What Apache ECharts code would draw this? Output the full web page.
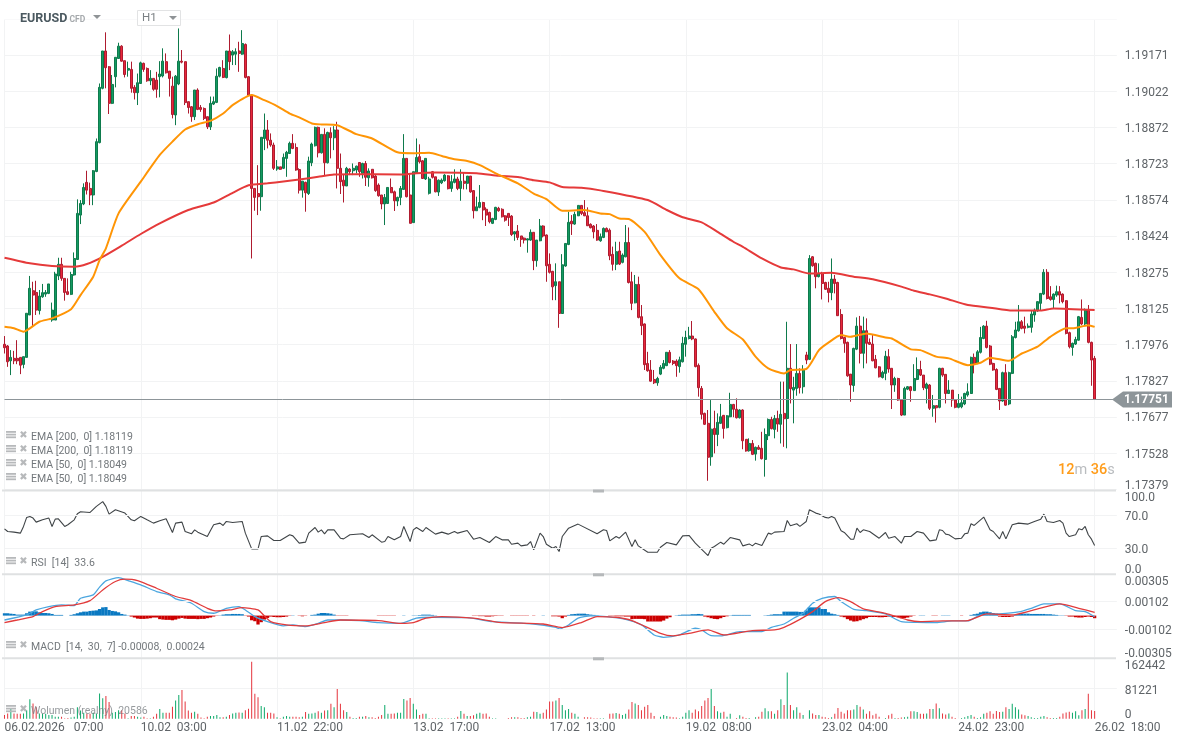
<!DOCTYPE html>
<html><head><meta charset="utf-8">
<style>html,body{margin:0;padding:0;background:#fff}#c{width:1184px;height:744px}</style>
<script src="https://cdn.jsdelivr.net/npm/echarts@6/dist/echarts.min.js"></script>
</head><body><div id="c"></div>
<script>
const SCALE=1e-5; // all prices below are in points of 0.00001
const tickLabelsX=['06.02.2026\u00A0\u00A0\u00A007:00','10.02\u00A0\u00A003:00','11.02\u00A0\u00A022:00','13.02\u00A0\u00A017:00','17.02\u00A0\u00A013:00','19.02\u00A0\u00A008:00','23.02\u00A0\u00A004:00','24.02\u00A0\u00A023:00','26.02\u00A0\u00A018:00'];
const tickLabelsPrice=['1.17379','1.17528','1.17677','1.17827','1.17976','1.18125','1.18275','1.18424','1.18574','1.18723','1.18872','1.19022','1.19171',''];
const rsiTicks=[0,30,70,100];
const macdTicks=[-0.00305,-0.00102,0.00102,0.00305];
const opens=[117978,117971,117910,117920,117920,117924,117895,117924,118099,118199,
118192,118117,118174,118185,118188,118078,118078,118260,118308,118250,
118195,118184,118264,118328,118511,118557,118646,118621,118594,118691,
118810,119034,119188,119123,118972,119082,119157,119208,119148,119109,
119112,119038,119016,119054,119137,119116,119065,119075,119068,119082,
119085,119144,119105,119043,118924,119052,119146,119144,118979,118958,
118917,119027,118955,118951,118917,118875,118969,118976,119084,119116,
119078,119188,119171,119175,119188,119175,119215,119082,119006,118621,
118600,118587,118827,118862,118820,118800,118701,118710,118704,118745,
118765,118807,118790,118699,118614,118646,118600,118727,118797,118873,
118768,118844,118727,118851,118830,118862,118704,118655,118631,118701,
118694,118697,118728,118683,118724,118665,118700,118672,118635,118594,
118557,118559,118625,118607,118569,118584,118617,118745,118594,118480,
118686,118752,118735,118660,118601,118690,118669,118606,118644,118653,
118673,118621,118646,118660,118621,118651,118642,118672,118612,118529,
118543,118563,118535,118522,118477,118493,118539,118535,118508,118518,
118507,118433,118445,118425,118416,118408,118408,118440,118323,118405,
118466,118429,118308,118279,118220,118236,118105,118301,118390,118486,
118474,118508,118551,118521,118508,118473,118466,118448,118405,118419,
118456,118449,118349,118308,118363,118316,118339,118398,118236,118149,
118225,118092,118062,117899,117872,117833,117819,117855,117879,117890,
117945,117909,117909,117886,117906,117978,118002,118012,118000,117891,
117796,117693,117652,117514,117631,117606,117652,117685,117634,117679,
117730,117710,117675,117707,117586,117539,117569,117525,117553,117549,
117503,117601,117668,117627,117672,117648,117693,117672,117879,117789,
117796,117858,117803,117934,117916,118339,118312,118257,118270,118233,
118209,118191,118247,118233,118101,118006,117986,117855,117808,117958,
118053,117941,118034,117986,117979,117916,117885,117841,117858,117927,
117879,117810,117837,117748,117686,117793,117803,117787,117833,117874,
117851,117796,117810,117714,117725,117718,117879,117854,117775,117789,
117748,117718,117720,117732,117769,117775,117924,117899,117945,118002,
118053,117971,117899,117874,117796,117744,117861,117732,117858,118006,
118034,118071,118053,118048,118048,118099,118116,118147,118185,118275,
118174,118163,118181,118195,118185,118158,118026,117965,117979,117995,
118089,118062,118119,117986,117920];
const closes=[117964,117906,117924,117910,117910,117892,117927,118106,118209,118181,
118119,118177,118191,118192,118227,118119,118268,118308,118250,118192,
118184,118266,118332,118518,118559,118625,118614,118594,118694,118814,
119038,119188,119119,118972,119050,119162,119208,119146,119091,119116,
119034,119016,119057,119139,119112,119065,119075,119030,119030,119093,
119146,119098,119075,118926,119084,119146,119142,118975,118955,118917,
119027,118947,118947,118910,118875,118972,118979,119084,119120,119079,
119188,119144,119185,119185,119178,119219,119079,119006,118621,118584,
118587,118832,118862,118820,118800,118704,118710,118700,118749,118770,
118807,118786,118697,118614,118651,118603,118734,118804,118873,118768,
118844,118727,118852,118830,118862,118704,118649,118632,118704,118690,
118704,118713,118690,118724,118667,118693,118665,118612,118591,118557,
118584,118625,118603,118570,118584,118621,118745,118587,118477,118690,
118749,118731,118662,118745,118660,118667,118607,118655,118655,118676,
118620,118649,118660,118621,118651,118642,118672,118607,118529,118545,
118563,118532,118511,118484,118497,118543,118529,118504,118490,118501,
118431,118442,118419,118411,118408,118413,118440,118323,118408,118466,
118425,118302,118275,118215,118236,118105,118306,118394,118481,118475,
118514,118551,118518,118508,118467,118459,118442,118408,118422,118456,
118442,118343,118308,118360,118309,118346,118398,118233,118147,118225,
118089,118055,117894,117869,117826,117819,117837,117883,117899,117945,
117903,117899,117890,117914,117982,118006,118012,118000,117886,117799,
117689,117648,117512,117628,117606,117656,117679,117631,117683,117730,
117710,117675,117707,117580,117538,117569,117524,117553,117545,117506,
117606,117668,117630,117672,117649,117689,117671,117879,117795,117800,
117858,117799,117872,117913,118332,118302,118257,118268,118229,118205,
118192,118247,118229,118096,118002,117982,117848,117810,117961,118053,
117941,118034,117982,117978,117910,117881,117844,117862,117929,117876,
117810,117837,117748,117686,117796,117803,117787,117837,117874,117851,
117799,117814,117714,117725,117716,117879,117851,117775,117789,117748,
117718,117734,117737,117775,117782,117924,117896,117947,118006,118053,
117965,117896,117872,117792,117744,117861,117727,117861,118009,118037,
118071,118044,118044,118053,118103,118119,118154,118188,118275,118167,
118163,118185,118195,118181,118154,118023,117968,117982,117998,118092,
118062,118119,117986,117913,117751];
const lows=[117940,117885,117851,117896,117896,117855,117879,117924,118099,118050,
118099,118101,118170,118174,118185,118071,118078,118243,118240,118158,
118181,118181,118261,118326,118474,118552,118596,118552,118552,118688,
118807,119030,119034,118928,118969,119038,119155,119144,119079,119082,
119016,118988,118965,119052,119102,119061,119047,119024,118995,118997,
119079,119095,119000,118910,118882,119047,119137,118965,118930,118896,
118903,118944,118937,118903,118866,118862,118965,118973,119079,119076,
119075,119109,119130,119130,119102,119172,119075,119003,118332,118529,
118511,118529,118779,118786,118793,118697,118694,118697,118701,118669,
118763,118783,118694,118600,118583,118525,118594,118713,118794,118749,
118765,118672,118724,118745,118779,118621,118598,118563,118631,118676,
118676,118683,118669,118662,118631,118628,118662,118607,118587,118535,
118470,118557,118603,118528,118548,118552,118617,118584,118477,118480,
118683,118724,118660,118656,118596,118662,118605,118590,118639,118649,
118617,118607,118642,118614,118570,118617,118617,118603,118497,118529,
118539,118490,118466,118477,118474,118490,118525,118501,118484,118466,
118425,118405,118408,118380,118394,118356,118405,118284,118298,118403,
118419,118236,118270,118160,118160,118046,118103,118298,118387,118429,
118471,118507,118511,118507,118466,118456,118415,118405,118401,118416,
118442,118325,118282,118284,118305,118312,118337,118229,118119,118147,
118085,118016,117872,117865,117824,117814,117807,117851,117875,117888,
117899,117892,117844,117861,117903,117927,117998,117995,117883,117762,
117668,117645,117415,117477,117528,117558,117649,117589,117631,117677,
117677,117672,117672,117545,117535,117535,117521,117498,117542,117503,
117432,117583,117627,117590,117617,117569,117555,117549,117734,117652,
117766,117775,117775,117896,117913,118298,118209,118254,118163,118202,
118151,118160,118188,118095,117998,117943,117844,117741,117782,117954,
117899,117879,117899,117975,117908,117879,117841,117837,117830,117861,
117711,117782,117745,117682,117686,117789,117741,117787,117830,117847,
117789,117734,117707,117679,117655,117714,117844,117734,117773,117720,
117714,117714,117714,117727,117762,117773,117858,117896,117940,117999,
117961,117892,117869,117789,117707,117741,117725,117727,117855,118002,
118030,118040,118023,118044,118026,118071,118112,118119,118181,118163,
118158,118126,118174,118147,118147,118019,117961,117931,117975,117993,
118057,118057,117982,117807,117751];
const highs=[118012,117975,117954,117951,117995,117924,117927,118106,118260,118236,
118240,118202,118227,118202,118227,118150,118277,118335,118335,118250,
118250,118277,118357,118576,118573,118642,118694,118645,118697,118827,
119054,119188,119265,119126,119089,119162,119222,119212,119148,119144,
119144,119047,119095,119144,119140,119120,119109,119075,119102,119146,
119199,119178,119105,119082,119089,119281,119192,119144,118979,118961,
119027,119034,118965,118955,118917,119000,119000,119116,119123,119150,
119188,119256,119192,119199,119226,119274,119219,119085,119009,118621,
118717,118832,118930,118903,118848,118810,118738,118710,118765,118776,
118814,118845,118807,118704,118651,118649,118752,118810,118876,118876,
118844,118869,118855,118873,118878,118896,118765,118680,118710,118704,
118724,118715,118728,118727,118734,118704,118700,118676,118642,118594,
118598,118625,118662,118612,118587,118631,118845,118745,118680,118690,
118827,118803,118738,118745,118669,118693,118669,118658,118662,118680,
118676,118676,118700,118669,118700,118686,118672,118672,118614,118587,
118635,118566,118543,118525,118500,118545,118545,118539,118511,118518,
118511,118445,118470,118425,118419,118415,118452,118440,118408,118495,
118469,118431,118353,118281,118312,118236,118350,118394,118525,118511,
118525,118551,118551,118573,118543,118477,118470,118474,118435,118460,
118460,118456,118381,118401,118401,118353,118470,118460,118277,118264,
118257,118140,118064,117947,117913,117872,117844,117892,117913,117945,
117954,117913,117916,117927,118009,118034,118050,118074,118002,117899,
117806,117696,117707,117748,117704,117693,117732,117686,117686,117778,
117732,117755,117710,117710,117586,117590,117583,117556,117562,117617,
117631,117672,117679,117686,117704,117824,117824,118071,117979,117844,
117979,117879,117892,117947,118346,118342,118315,118312,118277,118236,
118236,118332,118264,118236,118123,118006,117989,117855,117964,118089,
118095,118092,118085,118002,118016,117934,117888,117869,117951,117958,
117879,117844,117840,117748,117803,117806,117806,117896,117924,117910,
117851,117820,117814,117769,117725,117881,117881,117854,117830,117789,
117748,117773,117762,117778,117817,117927,117940,117954,118050,118057,
118075,117975,117902,117879,117796,117865,117896,117865,118016,118071,
118140,118078,118092,118064,118119,118126,118156,118188,118288,118288,
118218,118188,118220,118218,118188,118160,118030,117985,118009,118095,
118163,118126,118140,117989,117930];
const emaSlowIdx=[0,8,15,22,26,31,37,43,49,58,66,72,77,83,88,93,99,104,109,125,130,136,149,156,162,167,172,176,182,188,203,209,214,220,225,230,233,239,245,249,254,261,268,274,283,287,292,297,304,311,318,327,331,344];
const emaSlow=[118335,118312,118301,118298,118309,118339,118385,118433,118477,118532,118563,118603,118634,118642,118650,118658,118669,118678,118680,118678,118684,118687,118684,118673,118668,118655,118646,118627,118624,118613,118573,118532,118502,118481,118442,118401,118380,118332,118295,118287,118270,118273,118257,118246,118216,118199,118184,118167,118140,118129,118117,118117,118126,118119];
const emaFastIdx=[0,3,6,11,15,21,24,28,30,32,36,43,49,53,57,61,65,69,72,78,82,86,90,93,97,100,105,111,116,124,129,134,138,142,146,150,155,162,167,171,176,183,188,191,194,197,202,207,213,219,224,228,233,237,241,246,248,253,257,260,264,267,272,278,280,286,289,294,298,304,308,311,317,321,326,330,335,337,342,344];
const emaFast=[118050,118044,118030,118071,118085,118123,118181,118257,118325,118374,118518,118649,118759,118814,118864,118886,118900,118930,118965,119006,118985,118961,118930,118914,118889,118885,118882,118845,118827,118770,118766,118768,118755,118741,118734,118717,118683,118642,118600,118577,118529,118532,118518,118515,118497,118495,118442,118346,118250,118205,118112,118044,117998,117927,117879,117858,117872,117876,117954,117985,118016,118009,118023,118006,118002,117957,117954,117927,117920,117892,117902,117923,117910,117940,117968,118009,118044,118044,118057,118050];
const rsiIdx=[0,1,3,5,6,7,8,9,10,12,14,15,16,17,19,20,22,23,24,27,29,31,32,33,35,38,40,41,43,45,47,49,51,53,54,56,57,59,60,61,64,65,66,68,69,70,72,75,76,78,80,81,83,85,87,90,91,93,95,96,98,99,100,101,102,104,106,107,109,113,115,116,119,120,121,123,125,126,128,129,130,132,133,136,138,140,142,143,146,148,150,153,155,157,159,160,162,163,165,166,167,169,170,171,173,174,175,176,178,181,187,189,190,191,193,194,196,198,199,200,203,206,207,209,212,214,216,218,222,223,224,226,227,229,232,233,235,236,237,239,241,242,243,246,247,248,250,251,253,254,256,257,259,260,261,262,264,265,267,268,269,270,271,273,276,278,279,281,283,284,286,288,290,292,294,295,296,297,298,300,302,303,304,305,306,309,311,312,314,315,316,318,320,323,325,327,328,329,331,333,334,335,336,338,339,340,341,342,343,344];
const rsi=[53.7,50.5,49.7,48.5,56.6,67.5,68.7,66.7,61.8,64.6,66.7,56.6,65.4,65.8,56.6,58.6,64.6,71.9,74.3,73.5,80.8,86.5,80.8,71.5,76.8,72.7,64.6,63.4,68.7,64.6,60.6,63.4,65.9,49.3,60.6,61.8,50.5,47.7,52.5,49.7,44.4,51.7,58.6,60.6,57.8,62.6,61.4,62.6,48.5,29.5,29.5,44.4,45.2,39.6,39.6,46.5,45.2,36.4,37.6,48.5,55.3,49.7,52.5,47.7,52.5,52.5,42.4,41.6,46.5,47.7,43.2,46.5,37.6,38.4,44.4,40.4,44.4,56.6,38.4,52.5,55.3,50.5,55.3,47.3,49.7,47.3,50.5,48.5,51.7,41.2,43.2,37.2,44.4,40.4,40.4,35.1,36.4,33.1,34.3,38.4,28.3,48.5,44.4,35.1,30.3,32.3,26.3,44.4,54.5,59.4,47.7,52.5,51.7,39.2,44.4,42.4,49.7,32.3,40.4,33.1,25.4,25.4,31.5,37.2,34.3,45.2,45.7,36.4,21.4,30.3,32.3,37.6,35.1,43.2,40.4,33.1,35.5,33.1,36.4,33.5,48.5,47.3,49.7,50.5,63.8,57.4,59.8,56.6,62.6,76.8,72.7,71.5,67.5,66.7,68.7,66.7,51.3,49.3,41.2,41.2,54.5,49.3,52.5,50.5,42.4,49.3,42.4,44.4,36.4,44.4,44.4,50.5,48.5,39.2,40.4,52.5,51.7,47.3,46.5,41.6,42.4,47.7,48.5,59.8,57.8,67.9,52.5,50.5,41.6,50.5,41.6,58.6,60.6,59.4,62.6,65.4,71.5,62.6,61.4,63.8,60.6,48.5,44.4,46.5,53.7,52.5,56.6,46.5,41.2,33.6];
const macdIdx=[0,7,10,14,18,22,24,28,30,32,36,39,43,48,52,54,59,63,66,70,74,76,79,83,88,91,95,99,102,106,112,118,125,130,135,146,154,167,174,175,178,181,185,190,196,201,205,208,213,218,220,223,226,232,239,242,246,249,252,255,258,262,264,268,272,278,283,288,294,299,304,308,314,320,324,328,333,338,341,344];
const macd=[-32,5,41,66,78,73,126,151,207,253,277,255,224,175,151,122,90,29,17,53,66,41,-7,-44,-75,-68,-80,-56,-32,-32,-36,-51,-56,-19,-12,-15,-44,-61,-85,-97,-68,-19,-2,-7,-27,-68,-141,-158,-141,-92,-104,-146,-148,-117,-117,-85,-61,-19,17,90,126,139,102,46,36,12,-44,-49,-51,-39,-39,5,12,27,53,85,85,36,29,-8];
const signalIdx=[0,4,9,12,16,22,27,31,35,38,42,48,54,59,64,67,71,75,80,82,84,89,95,101,106,118,125,129,133,138,148,156,170,176,182,187,193,198,207,211,216,222,227,236,243,246,251,255,259,263,267,271,278,285,289,296,304,310,318,324,333,339,344];
const signal=[-51,-32,-7,29,66,78,109,187,248,265,255,199,139,109,53,34,41,58,41,-2,-44,-68,-75,-51,-32,-36,-56,-51,-19,-7,-19,-49,-61,-87,-51,-7,-12,-36,-129,-148,-129,-104,-141,-109,-104,-85,-27,29,102,131,102,49,17,-32,-44,-39,-36,12,5,36,85,53,24];
const macdHist=[17,17,14,12,7,7,7,17,29,31,31,24,19,19,17,12,5,5,5,0,0,5,10,17,24,29,29,34,36,38,48,60,62,41,34,31,24,12,7,2,
-7,-14,-22,-24,-24,-22,-19,-14,-14,-26,-29,-31,-31,-34,-29,-22,-17,-22,-24,-24,-24,-26,-24,-24,-19,-14,-7,-2,
2,7,10,10,12,12,12,10,
-2,-7,-34,-41,-65,-48,-29,-17,-7,-10,-12,-12,-10,-7,-2,
2,0,-2,-5,-2,0,
5,7,14,19,19,17,14,7,
-2,-2,-2,-2,0,0,0,0,0,0,0,0,0,
-2,-2,-2,-2,-2,-2,0,0,2,0,0,
2,2,4,7,7,7,5,2,0,0,0,0,0,0,0,0,0,0,0,
-2,-2,-4,-4,-7,-7,-5,-3,-2,-2,0,0,
-2,-2,-2,-2,-2,-2,0,-2,0,0,2,0,0,
-5,-5,-7,-19,-7,
5,10,12,14,14,14,10,7,5,2,0,0,0,
-2,-2,-4,-5,-5,-7,-7,-26,-24,-24,-24,-26,-43,-43,-43,-43,-43,-36,-22,-12,0,2,
5,7,7,7,10,10,12,10,
-7,-12,-19,-24,-26,-19,-10,-5,
2,5,5,5,5,5,5,0,0,0,0,
2,4,7,10,10,10,
29,29,29,29,29,27,27,38,60,60,60,60,48,48,24,14,10,5,
-7,-12,-26,-36,-43,-41,-34,-26,-19,-10,-10,-10,-12,-12,-10,-7,-10,-10,-12,-19,-19,-14,-7,-2,0,
2,2,0,0,-2,-2,0,2,2,2,0,0,0,-2,0,0,
5,10,14,24,29,29,24,19,14,
-7,-10,-10,-10,-7,
7,12,14,14,14,12,12,12,12,12,10,10,7,5,2,2,
-2,-7,-7,-12,-14,-14,-10,-7,-10,-19];
const volumesK=[10,14,28,14,13,13,14,23,52,41,31,14,13,13,10,10,5,5,5,1,2,3,5,31,22,16,13,13,16,14,68,55,61,45,16,18,23,23,14,
1,7,7,5,3,5,1,1,5,13,26,16,16,16,32,49,64,77,46,22,16,19,13,3,1,5,7,7,10,4,4,5,10,14,16,17,16,23,27,153,67,58,34,31,16,16,14,4,1,5,7,5,5,5,4,5,18,13,14,16,20,16,22,23,40,31,80,40,23,18,5,2,2,5,5,7,4,4,2,5,10,37,13,13,14,16,
16,53,49,56,40,25,10,13,13,1,1,1,1,1,1,1,1,1,5,21,13,7,7,9,13,16,13,14,5,1,1,0,0,0,2,4,4,4,2,2,4,5,19,18,13,16,25,46,46,49,56,37,23,26,16,13,5,0,4,4,3,1,1,1,1,0,13,14,15,13,10,13,25,45,41,37,23,32,37,16,7,0,5,10,7,5,4,3,1,5,16,23,16,25,20,34,49,56,80,34,20,16,19,5,13,0,2,9,5,2,2,0,4,5,19,28,20,20,13,23,52,
37,124,37,23,31,16,10,0,23,14,10,10,5,4,2,4,13,29,19,14,23,23,25,37,32,25,13,20,9,13,5,0,2,9,13,2,2,3,4,5,20,20,18,13,13,14,26,26,41,28,14,11,14,5,2,0,2,4,7,10,5,2,4,13,16,20,13,21,18,19,31,26,40,31,25,11,9,7,4,2,2,5,7,4,2,2,2,5,14,17,19,16,20,9,23,26,67,23,21];
const CURRENT_PRICE=1.17751;
const GREEN='#149a62',GREEN_B='#0e7a4c',RED='#e8283c',RED_B='#ae1b2f';
const TICK_EVERY=43, PAD=7;
const N=closes.length+PAD;
const categories=Array.from({length:N},(_,i)=>i%TICK_EVERY===0?tickLabelsX[i/TICK_EVERY]:String(i));
const p=v=>v*SCALE;
const pairs=(idx,vals,f)=>idx.map((x,k)=>[x,f?f(vals[k]):vals[k]]);
const iv=1.17379/786;
const GRID='#f2f3f4',TXT='#5f6468';
const barW=3.169;
const left=4.5,w=(N-1)*barW,right=1184-left-w;
const grids=[
 {left,right,top:18.9,height:470.6},
 {left,right,top:490.5,height:82.8},
 {left,right,top:573.7,height:83.8},
 {left,right,top:658.3,height:60.4}];
const axisX=(g,show)=>({type:'category',gridIndex:g,data:categories,boundaryGap:false,axisLine:{show:false},axisTick:{show:false},
 splitLine:{show:true,interval:TICK_EVERY-1,lineStyle:{color:GRID,width:1}},
 axisLabel:{show:show,interval:TICK_EVERY-1,align:'left',margin:3,color:TXT,fontSize:12,fontFamily:'Roboto',verticalAlign:'top'}});
const axisBase={position:'right',axisLine:{show:false},axisTick:{show:false}};
const font={color:TXT,fontSize:12,fontFamily:'Roboto'};
// edge labels sit inside the panel, middle labels sit on their line
const lab=(midPad,topPad,botPad)=>({...font,margin:8,rich:{
 m:{...font,padding:[midPad,0,0,0]},t:{...font,padding:[topPad,0,0,0]},b:{...font,padding:[0,0,botPad,0]}}});
const mark=(text,isTop,isBot)=>`{${isTop?'t':isBot?'b':'m'}|${text}}`;
const hline=(vals)=>({silent:true,symbol:'none',animation:false,precision:5,label:{show:false},lineStyle:{color:GRID,width:1,type:'solid'},data:vals.map(v=>({yAxis:v}))});
const option={animation:false,backgroundColor:'#fff',textStyle:{fontFamily:'Roboto'},
 grid:grids,
 xAxis:[axisX(0,false),axisX(1,false),axisX(2,false),axisX(3,true)],
 yAxis:[
  {...axisBase,gridIndex:0,type:'value',min:786*iv,max:799*iv,interval:iv,splitLine:{show:true,showMaxLine:false,showMinLine:true,lineStyle:{color:GRID,width:1}},
   axisLabel:{...lab(2.5,0,8),formatter:v=>{const k=Math.round(v/iv)-786;const t=tickLabelsPrice[k];return t?mark(t,false,k===0):'';}}},
  {...axisBase,gridIndex:1,type:'value',min:0,max:100,splitLine:{show:false},
   axisLabel:{...lab(3,14,6.5),customValues:rsiTicks,formatter:v=>mark(v.toFixed(1),v===100,v===0)}},
  {...axisBase,gridIndex:2,type:'value',min:-0.00305,max:0.00305,splitLine:{show:false},
   axisLabel:{...lab(3,16,6.5),customValues:macdTicks,formatter:v=>mark(v.toFixed(5),v>0.002,v<-0.002)}},
  {...axisBase,gridIndex:3,type:'value',min:0,max:162442,interval:81221,splitLine:{show:true,showMaxLine:false,showMinLine:false,lineStyle:{color:GRID,width:1}},
   axisLabel:{...lab(4,16,6.5),formatter:v=>mark(String(v),v===162442,v===0)}}
 ],
 series:[
  {type:'candlestick',xAxisIndex:0,yAxisIndex:0,clip:false,barWidth:2.5,
   data:closes.map((c,i)=>[p(opens[i]),p(c),p(lows[i]),p(highs[i])]),
   itemStyle:{color:GREEN,color0:RED,borderColor:GREEN_B,borderColor0:RED_B,borderWidth:1}},
  {type:'line',name:'EMA 200',xAxisIndex:0,yAxisIndex:0,data:pairs(emaSlowIdx,emaSlow,p),showSymbol:false,symbol:'none',smooth:0.2,lineStyle:{color:'#e53a3a',width:2},z:5,
   markLine:{silent:true,symbol:'none',animation:false,precision:5,label:{show:false},lineStyle:{color:'#8d9599',width:1,type:'solid'},data:[{yAxis:CURRENT_PRICE}]}},
  {type:'line',name:'EMA 50',xAxisIndex:0,yAxisIndex:0,data:pairs(emaFastIdx,emaFast,p),showSymbol:false,symbol:'none',smooth:0.2,lineStyle:{color:'#ff9505',width:2},z:6},
  {type:'line',name:'RSI',xAxisIndex:1,yAxisIndex:1,data:pairs(rsiIdx,rsi),showSymbol:false,symbol:'none',lineStyle:{color:'#3f4447',width:1.1},markLine:hline([30,70]),z:4},
  {type:'bar',name:'Hist',xAxisIndex:2,yAxisIndex:2,barWidth:3.3,clip:false,
   data:macdHist.map(v=>({value:p(v),itemStyle:{color:v>=0?'#0a79c2':'#cc0000'}})),markLine:hline([-0.00102,0.00102])},
  {type:'line',name:'MACD',xAxisIndex:2,yAxisIndex:2,data:pairs(macdIdx,macd,p),showSymbol:false,symbol:'none',smooth:0.2,lineStyle:{color:'#4ba6df',width:1.3},z:4},
  {type:'line',name:'Signal',xAxisIndex:2,yAxisIndex:2,data:pairs(signalIdx,signal,p),showSymbol:false,symbol:'none',smooth:0.2,lineStyle:{color:'#e23b3b',width:1.3},z:5},
  {type:'bar',name:'Volume',xAxisIndex:3,yAxisIndex:3,barWidth:1,clip:false,
   data:volumesK.map((v,i)=>({value:v*1000,itemStyle:{color:closes[i]>=opens[i]?'#0aa868':'#e5343c'}}))}
 ],
 graphic:{elements:[]}
};
const G=option.graphic.elements;
// separators and handles
[490.5,574.3,658.3].forEach(y=>{
 G.push({type:'rect',shape:{x:2,y:y-1,width:1114,height:2},style:{fill:'#dfe1e2'},z:20,silent:true});
 G.push({type:'rect',shape:{x:593,y:y-1,width:11,height:3},style:{fill:'#b5b8ba'},z:21,silent:true});
});
// indicator captions
const caption=(y,text,alpha)=>{
 [-5.5,-2.8,-0.1].forEach(d=>G.push({type:'rect',shape:{x:6,y:y+d,width:10,height:1.8},style:{fill:'#b7b9bb'},z:30,silent:true}));
 G.push({type:'text',x:23.5,y:y-1.5,style:{text:'\u2716',fontFamily:'DejaVu Sans',fontSize:10,fill:'#b7b9bb',align:'center',verticalAlign:'middle'},z:30,silent:true});
 G.push({type:'text',x:31,y:y+1,style:{text,fontFamily:'Roboto',fontSize:10.5,fill:'#73787c',verticalAlign:'middle',opacity:alpha||1},z:30,silent:true});
};
caption(436.5,'EMA [200,\u00A0 0] 1.18119');
caption(450.5,'EMA [200,\u00A0 0] 1.18119');
caption(464.5,'EMA [50,\u00A0 0] 1.18049');
caption(478.5,'EMA [50,\u00A0 0] 1.18049');
caption(562.5,'RSI\u00A0 [14]\u00A0 33.6');
caption(646.5,'MACD\u00A0 [14,\u00A0 30,\u00A0 7] -0.00008,\u00A0 0.00024');
caption(710.5,'Wolumen (realny)\u00A0 20586',0.75);
// header
G.push({type:'text',x:20,y:18.5,style:{text:'EURUSD',fontFamily:'Roboto',fontWeight:'bold',fontSize:12.5,fill:'#4b5960',verticalAlign:'middle'},z:30,silent:true});
G.push({type:'text',x:69.5,y:19.5,style:{text:'CFD',fontFamily:'Roboto',fontWeight:'bold',fontSize:8.5,fill:'#a5a9ac',verticalAlign:'middle'},z:30,silent:true});
G.push({type:'polygon',shape:{points:[[93,15],[101,15],[97,19]]},style:{fill:'#8f9396'},z:30,silent:true});
G.push({type:'rect',shape:{x:137.5,y:10.5,width:43,height:15},style:{fill:'#fff',stroke:'#e2e3e4',lineWidth:1},z:30,silent:true});
G.push({type:'text',x:142,y:18,style:{text:'H1',fontFamily:'Roboto',fontSize:11.5,fill:'#7b8084',verticalAlign:'middle'},z:31,silent:true});
G.push({type:'polygon',shape:{points:[[169,16],[177,16],[173,20]]},style:{fill:'#8f9396'},z:31,silent:true});
// mask the upper edge of the price panel, which carries no rule in the original
G.push({type:'rect',shape:{x:0,y:17.5,width:1184,height:2},style:{fill:'#fff'},z:9,silent:true});
// price tag
G.push({type:'polygon',shape:{points:[[1112,399.5],[1123,391.5],[1172,391.5],[1172,407.5],[1123,407.5]]},style:{fill:'#8d9599'},z:30,silent:true});
G.push({type:'text',x:1124,y:400,style:{text:'1.17751',fontFamily:'Roboto',fontWeight:'bold',fontSize:12,fill:'#fff',verticalAlign:'middle'},z:31,silent:true});
// countdown
G.push({type:'text',x:1058,y:470,style:{rich:{a:{fontFamily:'Roboto',fontSize:14.5,fontWeight:500,fill:'#ff9c1a'},b:{fontFamily:'Roboto',fontSize:14.5,fill:'#b9bcbf'}},text:'{a|12}{b|m} {a|36}{b|s}',verticalAlign:'middle',fontFamily:'Roboto',fontSize:14.5},z:30,silent:true});
const chart=echarts.init(document.getElementById('c'),null,{renderer:'canvas',width:1184,height:744});
chart.setOption(option);
</script></body></html>
